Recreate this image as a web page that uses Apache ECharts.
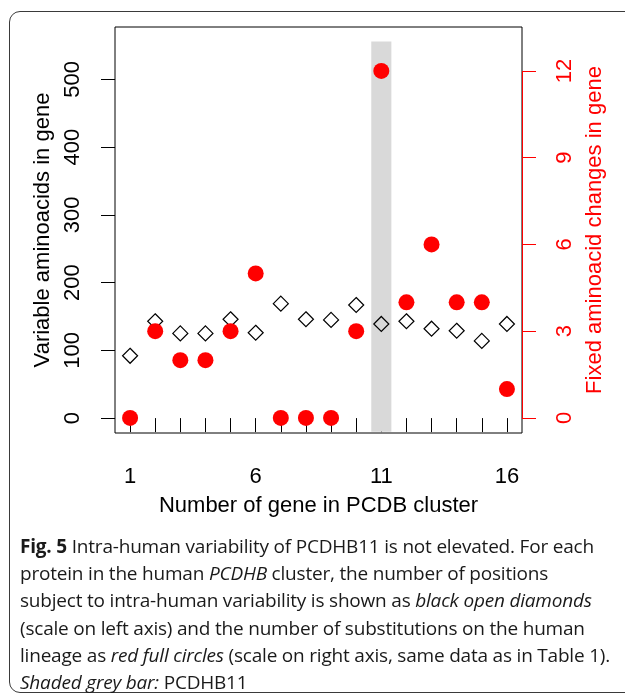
<!DOCTYPE html>
<html>
<head>
<meta charset="utf-8">
<script src="https://cdn.jsdelivr.net/npm/echarts@6/dist/echarts.min.js"></script>
<style>
  html, body { margin: 0; padding: 0; background: #fff; }
  body { width: 625px; height: 695px; position: relative; overflow: hidden; }
  .frame {
    position: absolute; left: 9px; top: 11px; width: 640px; height: 682px;
    border: 1.5px solid #3a3a3a; border-radius: 11px; box-sizing: border-box;
  }
  .chart { position: absolute; left: 0; top: 0; width: 625px; height: 695px; }
  .caption {
    position: absolute; left: 20px; top: 533px; width: 605px;
    font-family: "Open Sans", sans-serif; font-size: 19px; line-height: 27.2px;
    letter-spacing: -0.2px; color: #1a1a1a; white-space: nowrap;
  }
  .caption b { font-weight: 700; }
</style>
</head>
<body>
<div class="frame"></div>
<div class="chart"></div>
<div class="caption">
  <b>Fig. 5</b> Intra-human variability of PCDHB11 is not elevated. For each<br>
  protein in the human <i>PCDHB</i> cluster, the number of positions<br>
  subject to intra-human variability is shown as <i>black open diamonds</i><br>
  (scale on left axis) and the number of substitutions on the human<br>
  lineage as <i>red full circles</i> (scale on right axis, same data as in Table 1).<br>
  <i>Shaded grey bar:</i> PCDHB11
</div>
<script>
// 数据
var genes = [1, 2, 3, 4, 5, 6, 7, 8, 9, 10, 11, 12, 13, 14, 15, 16];
var variableAA = [92, 143, 125, 125, 146, 126, 169, 146, 145, 167, 139, 143, 132, 129, 114, 139];
var fixedChanges = [0, 3, 2, 2, 3, 5, 0, 0, 0, 3, 12, 4, 6, 4, 4, 1];
var xTicks = genes;
var xLabels = [1, 6, 11, 16];
var leftTicks = [0, 100, 200, 300, 400, 500];
var rightTicks = [0, 3, 6, 9, 12];
var shadedGene = 11;

(function () {
  var myChart = echarts.init(document.querySelector('.chart'));
  var font = '"Liberation Sans", Arial, sans-serif';

  var diamondData = genes.map(function (g, i) { return [g, variableAA[i]]; });
  var circleData = genes.map(function (g, i) { return [g, fixedChanges[i]]; });

  var option = {
    animation: false,
    grid: {
      left: 115, top: 27, right: 103, bottom: 262,
      show: true, borderColor: '#000', borderWidth: 1
    },
    xAxis: {
      type: 'value', min: 0.4, max: 16.6,
      name: 'Number of gene in PCDB cluster',
      nameLocation: 'middle', nameGap: 62,
      nameTextStyle: { fontFamily: font, fontSize: 22, color: '#000' },
      axisLine: { show: false },
      splitLine: { show: false },
      axisTick: { show: true, length: 14, customValues: xTicks, lineStyle: { color: '#000', width: 1 } },
      axisLabel: { customValues: xLabels, margin: 33, fontFamily: font, fontSize: 22, color: '#000' }
    },
    yAxis: [
      {
        type: 'value', min: -22, max: 577.5, position: 'left',
        name: 'Variable aminoacids in gene',
        nameLocation: 'middle', nameRotate: 90, nameGap: 59,
        nameTextStyle: { fontFamily: font, fontSize: 22, color: '#000' },
        axisLine: { show: false },
        splitLine: { show: false },
        axisTick: { show: true, length: 14, customValues: leftTicks, lineStyle: { color: '#000', width: 1 } },
        axisLabel: { customValues: leftTicks, rotate: 90, margin: 31, fontFamily: font, fontSize: 22, color: '#000' }
      },
      {
        type: 'value', min: -0.52, max: 13.52, position: 'right',
        name: 'Fixed aminoacid changes in gene',
        nameLocation: 'middle', nameRotate: 90, nameGap: 59,
        nameTextStyle: { fontFamily: font, fontSize: 22, color: '#ff0000' },
        axisLine: { show: false },
        splitLine: { show: false },
        axisTick: { show: true, length: 14, customValues: rightTicks, lineStyle: { color: '#ff0000', width: 1 } },
        axisLabel: { customValues: rightTicks, rotate: 90, margin: 32, fontFamily: font, fontSize: 22, color: '#ff0000' }
      }
    ],
    series: [
      {
        // 灰色条 PCDHB11
        name: 'shade', type: 'scatter', data: [], z: 1, silent: true,
        markArea: {
          silent: true,
          itemStyle: { color: '#d9d9d9', opacity: 1 },
          data: [[{ coord: [shadedGene - 0.4, -20] }, { coord: [shadedGene + 0.4, 556] }]]
        }
      },
      {
        name: 'variable', type: 'scatter', yAxisIndex: 0, z: 3,
        symbol: 'diamond', symbolSize: 15,
        itemStyle: { color: 'rgba(0,0,0,0)', borderColor: '#000', borderWidth: 1.2, opacity: 1 },
        data: diamondData
      },
      {
        name: 'fixed', type: 'scatter', yAxisIndex: 1, z: 4, clip: false,
        symbol: 'circle', symbolSize: 16,
        itemStyle: { color: '#ff0000', opacity: 1 },
        data: circleData,
        // 右轴红线 0-12
        markLine: {
          silent: true, symbol: ['none', 'none'], label: { show: false },
          lineStyle: { color: '#ff0000', width: 1, type: 'solid' },
          data: [[{ coord: [16.6, rightTicks[0]] }, { coord: [16.6, rightTicks[rightTicks.length - 1]] }]]
        }
      }
    ]
  };

  myChart.setOption(option);
  window.addEventListener('resize', function () {
    myChart.resize();
  });
})();
</script>
</body>
</html>
